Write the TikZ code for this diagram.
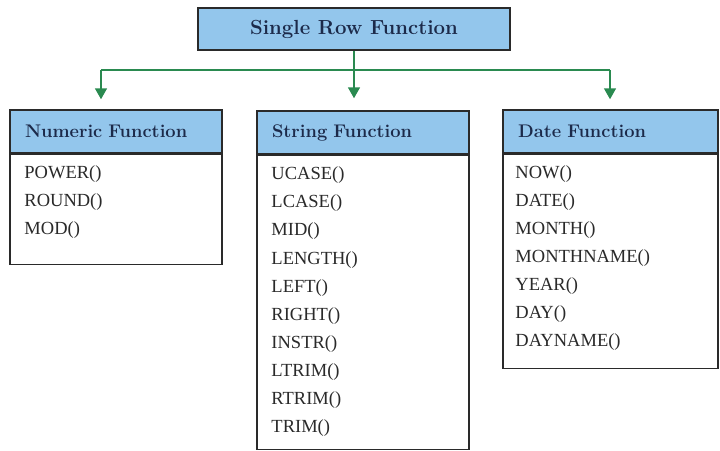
\documentclass[tikz,border=0pt]{standalone}
\usepackage{fontspec}
\usepackage{xcolor}
\usepackage{tikz}
\usetikzlibrary{arrows.meta,positioning,calc}
\newfontfamily\itemfont{Liberation Serif}
\definecolor{fnblue}{HTML}{93C6EC}
\definecolor{fnline}{HTML}{2A8A50}
\definecolor{fnnavy}{HTML}{1C2A4A}
\definecolor{fngray}{HTML}{2A2A2A}

\begin{document}
\begin{tikzpicture}[
  x=1pt,y=1pt,
  top/.style={draw=fngray,fill=fnblue,line width=1.5pt,minimum width=312pt,minimum height=42pt,
    font=\fontsize{20.4}{24}\selectfont\bfseries,text=fnnavy},
  head/.style={draw=fngray,fill=fnblue,line width=1.5pt,minimum height=43pt,inner xsep=15pt,align=left,
    font=\fontsize{18.3}{22}\selectfont\bfseries,text=fnnavy},
  body/.style={draw=fngray,fill=white,line width=1.5pt,inner sep=0pt},
  item/.style={anchor=base west,inner sep=0pt,font=\itemfont\fontsize{18.5}{22}\selectfont,text=fngray},
  link/.style={draw=fnline,line width=1.6pt},
  >={Triangle[width=12pt,length=11pt]}]
  \useasboundingbox (0,0) rectangle (720,-450);
  \node[top] (row) at (354,-29) {Single Row Function};
  % the three groups
  \node[head,text width=182pt] (numhead) at (116,-131.5) {Numeric Function};
  \node[body,minimum width=212pt,minimum height=110pt,below=0pt of numhead] (numbody) {};
  \node[head,text width=182pt] (strhead) at (363,-132.5) {String Function};
  \node[body,minimum width=212pt,minimum height=294pt,below=0pt of strhead] (strbody) {};
  \node[head,text width=185pt] (dathead) at (610.5,-131.5) {Date Function};
  \node[body,minimum width=215pt,minimum height=214pt,below=0pt of dathead] (datbody) {};
  \foreach \f [count=\i] in {POWER(),ROUND(),MOD()}
    \node[item] at ([xshift=15pt,yshift={-25pt-28pt*(\i-1)}]numbody.north west) {\f};
  \foreach \f [count=\i] in {UCASE(),LCASE(),MID(),LENGTH(),LEFT(),RIGHT(),INSTR(),LTRIM(),RTRIM(),TRIM()}
    \node[item] at ([xshift=15pt,yshift={-25pt-28.1pt*(\i-1)}]strbody.north west) {\f};
  \foreach \f [count=\i] in {NOW(),DATE(),MONTH(),MONTHNAME(),YEAR(),DAY(),DAYNAME()}
    \node[item] at ([xshift=13pt,yshift={-25pt-28pt*(\i-1)}]datbody.north west) {\f};
  % connectors
  \coordinate (fork) at (row.south |- 0,-70);
  \coordinate (numfork) at (101,-70);
  \coordinate (datfork) at (610,-70);
  \draw[link] (row.south) -- (fork);
  \draw[link] (numfork) -- (datfork);
  \draw[link,->] (numfork) -- ([yshift=10pt]numfork |- numhead.north);
  \draw[link,->] (fork) -- ([yshift=12pt]fork |- strhead.north);
  \draw[link,->] (datfork) -- ([yshift=10pt]datfork |- dathead.north);
\end{tikzpicture}
\end{document}
